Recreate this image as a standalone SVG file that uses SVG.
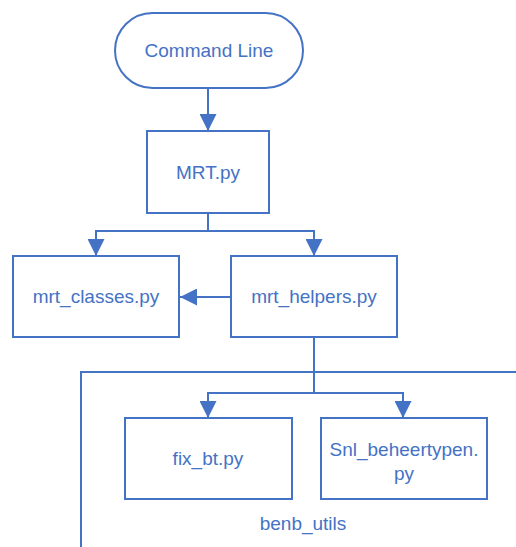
<svg xmlns="http://www.w3.org/2000/svg" width="516" height="547" viewBox="0 0 516 547">
  <defs>
    <marker id="arrowBig" viewBox="0 0 10 10" refX="10" refY="5" markerWidth="17" markerHeight="17" markerUnits="userSpaceOnUse" orient="auto">
      <path d="M0,0 L10,5 L0,10 Z" fill="#4472C4"/>
    </marker>
  </defs>
  <style>
    .box { fill: #ffffff; stroke: #4472C4; stroke-width: 2; }
    .line { fill: none; stroke: #4472C4; stroke-width: 2; }
    .lbl { font-family: "Liberation Sans", Arial, sans-serif; font-size: 19px; fill: #4472C4; text-anchor: middle; }
  </style>
  <rect width="516" height="547" fill="#ffffff"/>

  <!-- package container (open to the right and bottom) -->
  <g id="benb_utils">
    <path class="line" d="M81,547 L81,372 L516,372"/>
    <text class="lbl" x="303" y="530">benb_utils</text>
  </g>

  <g id="connectors">
    <path class="line" d="M208,88 L208,131" marker-end="url(#arrowBig)"/>
    <path class="line" d="M208,213 L208,231 M96,231 L314,231"/>
    <path class="line" d="M96,230 L96,256" marker-end="url(#arrowBig)"/>
    <path class="line" d="M314,230 L314,256" marker-end="url(#arrowBig)"/>
    <path class="line" d="M231,297 L180,297" marker-end="url(#arrowBig)"/>
    <path class="line" d="M314,337 L314,393 M208,393 L403,393"/>
    <path class="line" d="M208,392 L208,418" marker-end="url(#arrowBig)"/>
    <path class="line" d="M403,392 L403,418" marker-end="url(#arrowBig)"/>
  </g>

  <g id="command_line">
    <rect class="box" x="115" y="13" width="188" height="75" rx="37.5" ry="37.5"/>
    <text class="lbl" x="209" y="57">Command Line</text>
  </g>
  <g id="mrt">
    <rect class="box" x="147" y="131" width="122" height="82"/>
    <text class="lbl" x="208" y="179">MRT.py</text>
  </g>
  <g id="mrt_classes">
    <rect class="box" x="13" y="256" width="166" height="81"/>
    <text class="lbl" x="96" y="303">mrt_classes.py</text>
  </g>
  <g id="mrt_helpers">
    <rect class="box" x="231" y="256" width="166" height="81"/>
    <text class="lbl" x="314" y="303">mrt_helpers.py</text>
  </g>
  <g id="fix_bt">
    <rect class="box" x="125" y="418" width="167" height="81"/>
    <text class="lbl" x="208" y="465">fix_bt.py</text>
  </g>
  <g id="snl_beheertypen">
    <rect class="box" x="321" y="418" width="166" height="81"/>
    <text class="lbl" x="404" y="456">Snl_beheertypen.</text>
    <text class="lbl" x="404" y="480">py</text>
  </g>
</svg>
